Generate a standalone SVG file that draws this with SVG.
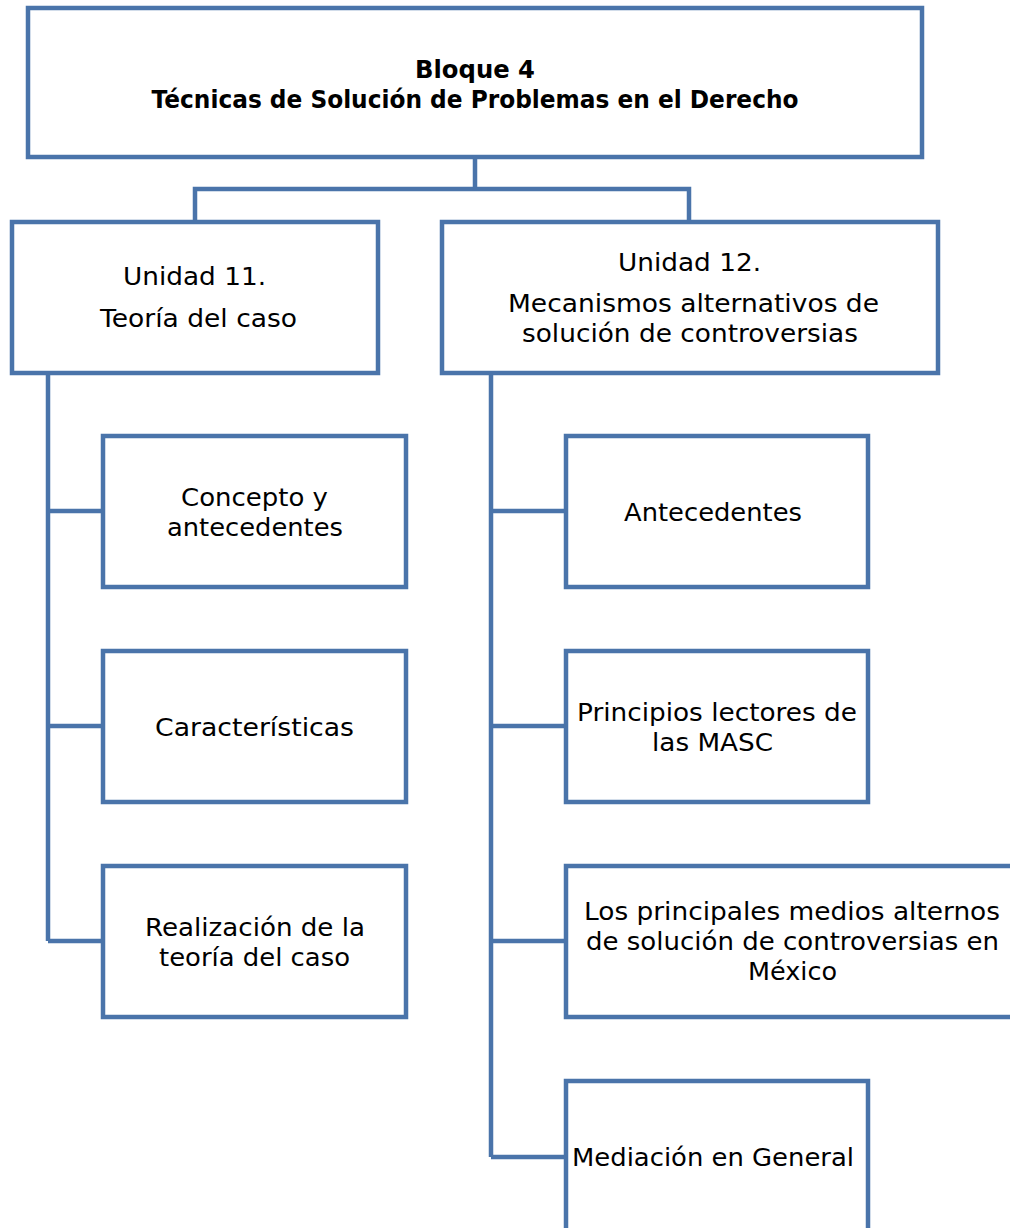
<svg xmlns="http://www.w3.org/2000/svg" width="1010" height="1228" viewBox="0 0 1010 1228">
<style>
.box{fill:#fff;stroke:#4a74aa;stroke-width:4.5}
.ln{fill:none;stroke:#4a74aa;stroke-width:4.5}
text{font-family:"DejaVu Sans","Open Sans",sans-serif;font-size:25px;fill:#000;text-anchor:middle}
.b{font-weight:bold}
</style>
<rect width="1010" height="1228" fill="#fff"/>
<g id="connectors">
<path class="ln" d="M475,157V189M195,222V189H689V222"/>
<path class="ln" d="M48,373V941M48,511H103M48,726H103M48,941H103"/>
<path class="ln" d="M491,373V1157M491,511H566M491,726H566M491,941H566M491,1157H566"/>
</g>
<g id="n0"><rect class="box" x="28" y="8" width="894" height="149"/>
<text class="b" x="475" y="78" textLength="120" lengthAdjust="spacingAndGlyphs">Bloque 4</text>
<text class="b" x="475" y="108" textLength="647" lengthAdjust="spacingAndGlyphs">Técnicas de Solución de Problemas en el Derecho</text></g>
<g id="n1"><rect class="box" x="12" y="222" width="366" height="151"/>
<text x="194.5" y="285" textLength="143" lengthAdjust="spacingAndGlyphs">Unidad 11.</text><text x="198.5" y="327" textLength="197" lengthAdjust="spacingAndGlyphs">Teoría del caso</text></g>
<g id="n2"><rect class="box" x="442" y="222" width="496" height="151"/>
<text x="689.5" y="271" textLength="143" lengthAdjust="spacingAndGlyphs">Unidad 12.</text><text x="693.5" y="312" textLength="371" lengthAdjust="spacingAndGlyphs">Mecanismos alternativos de</text><text x="690" y="342" textLength="336" lengthAdjust="spacingAndGlyphs">solución de controversias</text></g>
<g id="n3"><rect class="box" x="103" y="436" width="303" height="151"/>
<text x="254.5" y="506" textLength="147" lengthAdjust="spacingAndGlyphs">Concepto y</text><text x="255" y="536" textLength="176" lengthAdjust="spacingAndGlyphs">antecedentes</text></g>
<g id="n4"><rect class="box" x="103" y="651" width="303" height="151"/>
<text x="254.5" y="736" textLength="199" lengthAdjust="spacingAndGlyphs">Características</text></g>
<g id="n5"><rect class="box" x="103" y="866" width="303" height="151"/>
<text x="255" y="936" textLength="220" lengthAdjust="spacingAndGlyphs">Realización de la</text><text x="254.5" y="966" textLength="191" lengthAdjust="spacingAndGlyphs">teoría del caso</text></g>
<g id="n6"><rect class="box" x="566" y="436" width="302" height="151"/>
<text x="713" y="521" textLength="178" lengthAdjust="spacingAndGlyphs">Antecedentes</text></g>
<g id="n7"><rect class="box" x="566" y="651" width="302" height="151"/>
<text x="717" y="721" textLength="280" lengthAdjust="spacingAndGlyphs">Principios lectores de</text><text x="712.5" y="751" textLength="121" lengthAdjust="spacingAndGlyphs">las MASC</text></g>
<g id="n8"><rect class="box" x="566" y="866" width="460" height="151"/>
<text x="792" y="920" textLength="416" lengthAdjust="spacingAndGlyphs">Los principales medios alternos</text><text x="792.5" y="950" textLength="413" lengthAdjust="spacingAndGlyphs">de solución de controversias en</text><text x="792.5" y="980" textLength="89" lengthAdjust="spacingAndGlyphs">México</text></g>
<g id="n9"><rect class="box" x="566" y="1081" width="302" height="160"/>
<text x="713" y="1166" textLength="282" lengthAdjust="spacingAndGlyphs">Mediación en General</text></g>
</svg>
